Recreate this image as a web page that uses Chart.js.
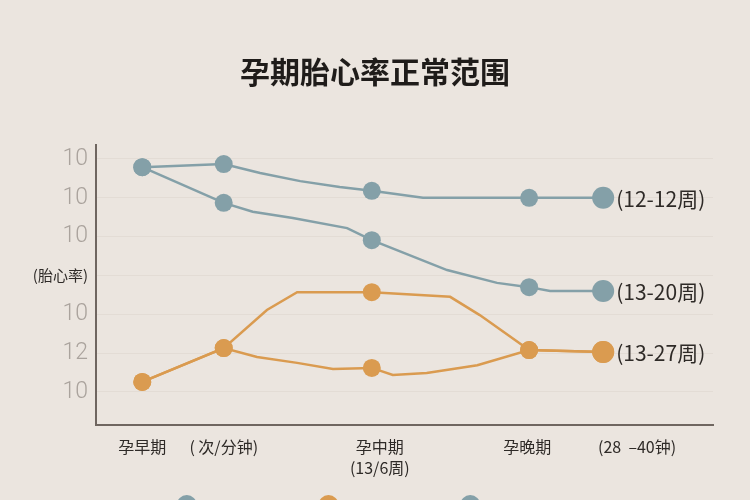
<!DOCTYPE html>
<html>
<head>
<meta charset="utf-8">
<script src="https://cdn.jsdelivr.net/npm/chart.js@4/dist/chart.umd.min.js"></script>
<style>
  html, body { margin: 0; padding: 0; background: #ebe5df; }
  #wrap { width: 750px; height: 500px; position: relative; }
</style>
</head>
<body>
<div id="wrap"><canvas id="c"></canvas></div>
<script>
// data (x: 0..100 along the axis, y: beats per minute)
const titleText = "孕期胎心率正常范围";
const xTickValues = [7.5, 20.7, 46.0, 69.9, 87.7];
const xTickLabels = ["孕早期", "( 次/分钟)", ["孕中期", "(13/6周)"], "孕晚期", "(28  –40钟)"];
const yTickValues = [110, 120, 130, 140, 150, 160, 170];
const yTickLabels = ["10", "12", "10", "(胎心率)", "10", "10", "10"];
const markerX = [7.5, 20.7, 44.7, 70.2, 82.2];

const aX = [7.5, 20.7, 26.6, 33.1, 39.5, 44.7, 53.0, 70.2, 82.2];
const aY = [167.9, 168.7, 166.4, 164.3, 162.8, 161.8, 160.0, 160.0, 160.0];
const bX = [7.5, 20.7, 25.4, 31.9, 40.7, 44.7, 56.9, 65.0, 70.2, 73.6, 82.2];
const bY = [167.9, 158.7, 156.4, 154.8, 152.2, 149.1, 141.4, 138.1, 137.0, 136.0, 136.0];
const cX = [7.5, 20.7, 27.7, 32.6, 44.7, 57.4, 62.2, 70.2, 82.2];
const cY = [112.6, 121.3, 131.1, 135.7, 135.7, 134.5, 129.8, 120.8, 120.3];
const dX = [7.5, 20.7, 26.1, 32.6, 38.4, 44.7, 48.1, 53.6, 61.8, 70.2, 82.2];
const dY = [112.6, 121.3, 119.0, 117.5, 115.9, 116.2, 114.4, 114.9, 116.9, 120.8, 120.3];
const endLabels = ["(12-12周)", "(13-20周)", "(13-27周)", ""];

const blue = "#84a0a8";
const orange = "#da9b50";
const seriesColors = [blue, blue, orange, orange];
const legendColors = [blue, orange, blue];

const CJK = "'Noto Sans CJK SC', 'Noto Sans', sans-serif";

function pts(xs, ys) {
  return xs.map((x, i) => ({ x: x, y: ys[i] }));
}
function markerRadius(ctx) {
  const p = ctx.raw;
  if (!p || markerX.indexOf(p.x) < 0) return 0;
  return p.x === markerX[markerX.length - 1] ? 11 : 9;
}
function makeSet(xs, ys, color) {
  return {
    data: pts(xs, ys),
    borderColor: color,
    backgroundColor: color,
    pointBackgroundColor: color,
    pointBorderWidth: 0,
    borderWidth: 2.5,
    tension: 0,
    pointRadius: markerRadius,
    pointHoverRadius: markerRadius,
    clip: false,
  };
}

const bgPlugin = {
  id: "bg",
  beforeDraw(chart) {
    const ctx = chart.ctx;
    ctx.save();
    ctx.fillStyle = "#ebe5df";
    ctx.fillRect(0, 0, chart.width, chart.height);
    // title, centred on the whole canvas
    ctx.font = "bold 30px " + CJK;
    ctx.fillStyle = "#1f1c1a";
    ctx.textAlign = "center";
    ctx.textBaseline = "middle";
    ctx.fillText(titleText, chart.width / 2, 72);
    ctx.restore();
  },
};

const endLabelPlugin = {
  id: "endLabels",
  afterDatasetsDraw(chart) {
    const ctx = chart.ctx;
    ctx.save();
    ctx.font = "21px " + CJK;
    ctx.fillStyle = "#2e2a27";
    ctx.textBaseline = "middle";
    chart.data.datasets.forEach((ds, i) => {
      if (!endLabels[i]) return;
      const meta = chart.getDatasetMeta(i);
      const last = meta.data[meta.data.length - 1];
      ctx.fillText(endLabels[i], last.x + 13, last.y + 1);
    });
    ctx.restore();
  },
  afterDraw(chart) {
    // legend dots half cut off at the bottom edge
    const ctx = chart.ctx;
    const step = chart.width * 0.189;
    const x0 = chart.width * 0.249;
    ctx.save();
    legendColors.forEach((c, i) => {
      ctx.beginPath();
      ctx.arc(x0 + i * step, chart.height + 5, 10, 0, Math.PI * 2);
      ctx.fillStyle = c;
      ctx.fill();
    });
    ctx.restore();
  },
};

new Chart(document.getElementById("c"), {
  type: "line",
  data: {
    datasets: [
      makeSet(aX, aY, seriesColors[0]),
      makeSet(bX, bY, seriesColors[1]),
      makeSet(cX, cY, seriesColors[2]),
      makeSet(dX, dY, seriesColors[3]),
    ],
  },
  options: {
    responsive: true,
    maintainAspectRatio: false,
    animation: false,
    layout: { padding: { left: 0, right: 37, top: 145, bottom: 0 } },
    plugins: {
      legend: { display: false },
      tooltip: { enabled: false },
      title: { display: false },
    },
    scales: {
      x: {
        type: "linear",
        min: 0,
        max: 100,
        afterBuildTicks(scale) {
          scale.ticks = xTickValues.map((v) => ({ value: v }));
        },
        afterFit(scale) {
          scale.height = 75;
        },
        grid: { display: false, drawTicks: false },
        border: { display: true, color: "#6f6660", width: 2 },
        ticks: {
          autoSkip: false,
          maxRotation: 0,
          padding: 11,
          color: "#2e2a27",
          font: { family: CJK, size: 16, lineHeight: 1.35 },
          callback: (v, i) => xTickLabels[i],
        },
      },
      y: {
        min: 101.5,
        max: 173.6,
        afterBuildTicks(scale) {
          scale.ticks = yTickValues.map((v) => ({ value: v }));
        },
        afterFit(scale) {
          scale.width = 96;
        },
        grid: { color: "#e3dcd5", lineWidth: 1, drawTicks: false },
        border: { display: true, color: "#6f6660", width: 2 },
        ticks: {
          padding: 8,
          color: (ctx) => (yTickLabels[ctx.index] === "(胎心率)" ? "#2e2a27" : "#aaa39d"),
          font: (ctx) =>
            yTickLabels[ctx.index] === "(胎心率)"
              ? { family: CJK, size: 15 }
              : { family: "Roboto, sans-serif", size: 23, weight: "300" },
          callback: (v, i) => yTickLabels[i],
        },
      },
    },
  },
  plugins: [bgPlugin, endLabelPlugin],
});
</script>
</body>
</html>
